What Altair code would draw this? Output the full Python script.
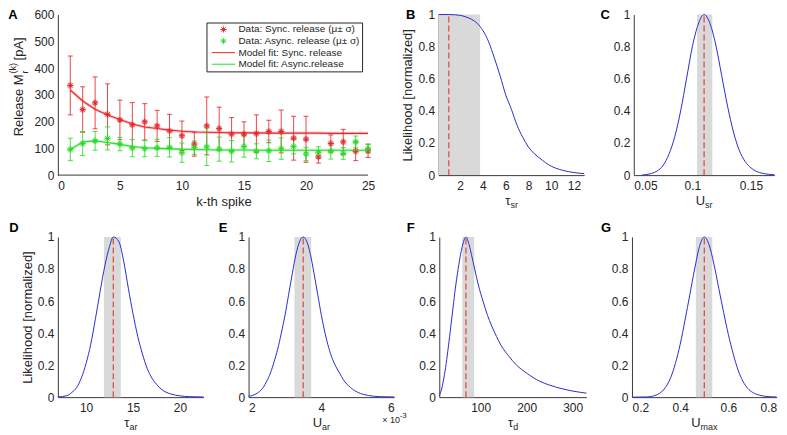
import altair as alt
import pandas as pd

FONT = "Liberation Sans"
INK = "#262626"
AXC = "#3a3a3a"
RED = "#e8262b"
GREEN = "#29dc29"
BLUE = "#2b2bd4"
BAND = "#d9d9d9"
DASH = "#e0443f"

AST = "M-1,0L1,0M0,-1L0,1M-0.7,-0.7L0.7,0.7M-0.7,0.7L0.7,-0.7"
SEG = "M-3.9,0L3.9,0"

SERIES = ["Data: Sync. release (μ± σ)", "Data: Async. release (μ± σ)",
          "Model fit: Sync. release", "Model fit: Async.release"]

# ---------------- Panel A data ----------------
spike = list(range(1, 26))
sync_mean = [335, 245, 270, 227, 206, 188, 199, 184, 165, 147, 116, 184, 174,
             153, 153, 155, 163, 163, 138, 134, 68, 118, 124, 89, 91]
sync_sd = [110, 85, 97, 114, 74, 83, 68, 58, 62, 55, 45, 108, 80,
           62, 46, 70, 42, 80, 82, 86, 23, 32, 47, 35, 25]
async_mean = [96, 118, 128, 137, 116, 101, 99, 102, 104, 84, 103, 106, 97,
              89, 107, 89, 91, 99, 107, 79, 84, 89, 81, 124, 99]
async_sd = [42, 45, 35, 43, 25, 32, 30, 32, 36, 36, 25, 70, 45,
            40, 40, 28, 40, 40, 28, 25, 22, 29, 22, 22, 16]
fit_sync = [318, 277, 246, 225, 208, 191, 180, 174, 168, 164, 161, 160, 159,
            158, 158, 158, 157, 157, 157, 157, 157, 156, 156, 156, 156]
fit_async = [96, 124, 128, 122, 115, 107, 102, 100, 98, 97, 96, 95, 94,
             94, 94, 93, 93, 93, 93, 93, 93, 93, 93, 93, 93]
A_xticks = [0, 5, 10, 15, 20, 25]
A_yticks = [0, 100, 200, 300, 400, 500, 600]

# ---------------- Likelihood curves ----------------
tau_sr_x = [0.1, 1, 2, 2.5, 3, 3.5, 4, 4.5, 5, 5.5, 6, 6.5, 7, 7.5, 8, 9, 10, 11, 12, 12.9]
tau_sr_y = [1.0, 1.0, 0.995, 0.985, 0.97, 0.945, 0.9, 0.83, 0.73, 0.62, 0.5, 0.41, 0.31,
            0.235, 0.175, 0.105, 0.056, 0.03, 0.016, 0.009]

u_sr_x = [0.057, 0.06, 0.065, 0.07, 0.075, 0.08, 0.085, 0.09, 0.095, 0.1, 0.105, 0.11, 0.115,
          0.12, 0.125, 0.13, 0.135, 0.14, 0.145, 0.15, 0.155, 0.16, 0.165, 0.17]
u_sr_y = [0.0, 0.003, 0.01, 0.026, 0.06, 0.13, 0.24, 0.40, 0.6, 0.80, 0.94, 1.0, 0.945,
          0.81, 0.62, 0.43, 0.27, 0.155, 0.085, 0.045, 0.022, 0.011, 0.005, 0.002]

tau_ar_x = [7, 8, 8.5, 9, 9.5, 10, 10.5, 11, 11.5, 12, 12.5, 12.9, 13.5, 14, 14.5, 15, 15.5,
            16, 16.5, 17, 17.5, 18, 19, 20, 21, 22.5]
tau_ar_y = [0.001, 0.01, 0.03, 0.06, 0.12, 0.21, 0.33, 0.49, 0.66, 0.82, 0.94, 1.0, 0.97, 0.85,
            0.68, 0.52, 0.38, 0.27, 0.18, 0.12, 0.08, 0.05, 0.02, 0.008, 0.003, 0.001]

u_ar_x = [0.0020, 0.0021, 0.0022, 0.0023, 0.0024, 0.0025, 0.0026, 0.0027, 0.0028, 0.0029,
          0.0030, 0.0031, 0.0032, 0.0033, 0.0034, 0.0035, 0.0036, 0.0037, 0.0038, 0.0039,
          0.0040, 0.0041, 0.0042, 0.0043, 0.0044, 0.0045, 0.0046, 0.0048, 0.0050, 0.0053,
          0.0056, 0.0060]
u_ar_y = [0.005, 0.01, 0.02, 0.035, 0.06, 0.1, 0.15, 0.22, 0.30, 0.40, 0.51, 0.64, 0.77, 0.89,
          0.97, 1.0, 0.97, 0.89, 0.77, 0.64, 0.51, 0.40, 0.31, 0.24, 0.19, 0.15, 0.11, 0.06,
          0.03, 0.01, 0.003, 0.001]

tau_d_x = [10, 15, 20, 25, 30, 35, 40, 45, 50, 55, 60, 68, 75, 80, 87, 95, 105, 115, 131,
           145, 160, 178, 200, 228, 250, 275, 300, 330]
tau_d_y = [0.01, 0.05, 0.12, 0.21, 0.32, 0.44, 0.56, 0.68, 0.78, 0.87, 0.94, 1.0, 0.95, 0.89,
           0.8, 0.7, 0.6, 0.51, 0.4, 0.32, 0.26, 0.2, 0.15, 0.1, 0.075, 0.054, 0.038, 0.025]

u_max_x = [0.2, 0.26, 0.3, 0.33, 0.36, 0.38, 0.4, 0.42, 0.44, 0.46, 0.48, 0.5, 0.52, 0.54,
           0.56, 0.58, 0.6, 0.62, 0.64, 0.66, 0.68, 0.7, 0.73, 0.76, 0.8]
u_max_y = [0.0, 0.001, 0.013, 0.044, 0.12, 0.21, 0.33, 0.48, 0.64, 0.8, 0.94, 1.0, 0.95, 0.83,
           0.68, 0.53, 0.39, 0.27, 0.17, 0.1, 0.055, 0.03, 0.012, 0.004, 0.001]

LIK_TICKS = [0, 0.2, 0.4, 0.6, 0.8, 1]

# ---------------- Layout ----------------
H_TOP = 161
H_BOT = 160.6
W_A_AXIS = 311
W_A = 332
A_XDOM = [0, 25 * W_A / W_A_AXIS]


def text_layer(t, x, y, size=13, angle=0, align="center", baseline="middle", bold=False):
    return alt.Chart(pd.DataFrame({"t": [t]})).mark_text(
        font=FONT, fontSize=size, angle=angle, align=align, baseline=baseline,
        fontWeight="bold" if bold else "normal", color=INK if not bold else "#000000"
    ).encode(x=alt.value(x), y=alt.value(y), text="t:N")


# ---------------- Panel A ----------------
axA_x = alt.Axis(values=A_xticks, domain=False, title="k-th spike", titleFontSize=13,
                 titlePadding=4, labelPadding=5)
axA_y = alt.Axis(values=A_yticks, title=None, labelPadding=4)


def XA(f):
    return alt.X(f, scale=alt.Scale(domain=A_XDOM, nice=False, zero=False), axis=axA_x)


def YA(f):
    return alt.Y(f, scale=alt.Scale(domain=[0, 600], nice=False), axis=axA_y)


def mk(mean, sd, name):
    return pd.DataFrame({"k": spike, "v": mean,
                         "lo": [m - s for m, s in zip(mean, sd)],
                         "hi": [m + s for m, s in zip(mean, sd)],
                         "series": name})


df_s = mk(sync_mean, sync_sd, SERIES[0])
df_a = mk(async_mean, async_sd, SERIES[1])
df_pts = pd.concat([df_s, df_a])
df_fit = pd.concat([
    pd.DataFrame({"k": spike, "v": fit_sync, "series": SERIES[2]}),
    pd.DataFrame({"k": spike, "v": fit_async, "series": SERIES[3]}),
])

leg = alt.Legend(orient="none", legendX=149, legendY=8, title=None, labelFont=FONT,
                 labelFontSize=10, labelColor=INK, symbolSize=36, symbolStrokeWidth=1,
                 strokeColor=INK, fillColor="white", padding=2, rowPadding=1.6,
                 symbolOffset=10, labelOffset=10)
color_enc = alt.Color("series:N", scale=alt.Scale(domain=SERIES, range=[RED, GREEN, RED, GREEN]),
                      legend=leg)
shape_enc = alt.Shape("series:N", scale=alt.Scale(domain=SERIES, range=[AST, AST, SEG, SEG]),
                      legend=leg)


def errbars(df, col):
    rule = alt.Chart(df).mark_rule(color=col, strokeWidth=1, opacity=0.85).encode(
        x=XA("k:Q"), y=YA("lo:Q"), y2="hi:Q")
    lo = alt.Chart(df).mark_tick(color=col, orient="horizontal", size=5, thickness=1,
                                 opacity=0.85).encode(x=XA("k:Q"), y=YA("lo:Q"))
    hi = alt.Chart(df).mark_tick(color=col, orient="horizontal", size=5, thickness=1,
                                 opacity=0.85).encode(x=XA("k:Q"), y=YA("hi:Q"))
    return [rule, lo, hi]


def halo_pts(df, col):
    return alt.Chart(df).mark_point(shape=AST, filled=False, size=36, strokeWidth=3.5,
                                    opacity=0.3, color=col).encode(x=XA("k:Q"), y=YA("v:Q"))


def halo_line(vals, col):
    return alt.Chart(pd.DataFrame({"k": spike, "v": vals})).mark_line(
        color=col, strokeWidth=3, opacity=0.25).encode(x=XA("k:Q"), y=YA("v:Q"))


baseA = alt.Chart(pd.DataFrame({"a": [0], "b": [25], "z": [0]})).mark_rule(
    color=AXC, strokeWidth=1).encode(x=XA("a:Q"), x2="b:Q", y=YA("z:Q"))

pointsA = alt.Chart(df_pts).mark_point(filled=False, size=36, strokeWidth=1, opacity=1).encode(
    x=XA("k:Q"), y=YA("v:Q"), color=color_enc, shape=shape_enc)
linesA = alt.Chart(df_fit).mark_line(strokeWidth=1.1).encode(
    x=XA("k:Q"), y=YA("v:Q"), color=color_enc)

layersA = [baseA, halo_line(fit_sync, RED), halo_line(fit_async, GREEN)]
layersA += errbars(df_s, RED) + errbars(df_a, GREEN)
layersA += [halo_pts(df_s, RED), halo_pts(df_a, GREEN), pointsA, linesA]
layersA += [
    text_layer("A", -49.7, -5.3, size=13, align="left", baseline="top", bold=True),
    text_layer("Release M", -39, 60, size=13, angle=270, align="right"),
    text_layer("(k)", -44.5, 59, size=9, angle=270, align="left"),
    text_layer("r", -33, 59, size=9, angle=270, align="left"),
    text_layer("[pA]", -39, 46, size=13, angle=270, align="left"),
]
chartA = alt.layer(*layersA).properties(width=W_A, height=H_TOP)


# ---------------- Likelihood panels ----------------
def lik_panel(xs, ys, dom, band, peak, width, height, xticks, letter, letter_dx, sym, sub,
              sub_dx, ytitle, label_expr=None, extras=()):
    xax = dict(values=xticks, title=None, labelPadding=5)
    if label_expr:
        xax["labelExpr"] = label_expr
    else:
        xax["format"] = "~r"

    def X(f):
        return alt.X(f, scale=alt.Scale(domain=dom, nice=False, zero=False), axis=alt.Axis(**xax))

    def Y(f):
        return alt.Y(f, scale=alt.Scale(domain=[0, 1], nice=False),
                     axis=alt.Axis(values=LIK_TICKS, format="~r",
                                   title="Likelihood [normalized]" if ytitle else None,
                                   titlePadding=3, labelPadding=4))

    band_l = alt.Chart(pd.DataFrame({"x": [band[0]], "x2": [band[1]], "y": [0.0], "y2": [1.0]})
                       ).mark_rect(color=BAND).encode(x=X("x:Q"), x2="x2:Q", y=Y("y:Q"), y2="y2:Q")
    dash = alt.Chart(pd.DataFrame({"x": [peak], "y": [0.0], "y2": [1.0]})).mark_rule(
        color=DASH, strokeDash=[6, 3], strokeWidth=1.2).encode(x=X("x:Q"), y=Y("y:Q"), y2="y2:Q")
    curve = alt.Chart(pd.DataFrame({"x": xs, "y": ys})).mark_line(
        color=BLUE, strokeWidth=1, interpolate="monotone").encode(x=X("x:Q"), y=Y("y:Q"))
    cx = width / 2
    ty = height + 26
    layers = [band_l, dash, curve,
              text_layer(letter, letter_dx, -5.3 if height == H_TOP else -14.5, size=13,
                         align="left", baseline="top", bold=True),
              text_layer(sym, cx + sub_dx, ty, size=13, align="right"),
              text_layer(sub, cx + sub_dx, ty + 4, size=9, align="left")]
    layers += list(extras)
    return alt.layer(*layers).properties(width=width, height=height)


chartB = lik_panel(tau_sr_x, tau_sr_y, [0.1, 12.9], [0.1, 3.75], 1.0, 146, H_TOP,
                   [2, 4, 6, 8, 10, 12], "B", -32.6, "τ", "sr", -0.9, True)
chartC = lik_panel(u_sr_x, u_sr_y, [0.05, 0.17], [0.104, 0.117], 0.11, 141, H_TOP,
                   [0.05, 0.1, 0.15], "C", -33.3, "U", "sr", 1.0, False)
chartD = lik_panel(tau_ar_x, tau_ar_y, [7, 22.5], [11.9, 13.7], 12.9, 146, H_BOT,
                   [10, 15, 20], "D", -48.7, "τ", "ar", -1.2, True)
chartE = lik_panel(u_ar_x, u_ar_y, [0.002, 0.006], [0.00326, 0.00372], 0.0035, 146, H_BOT,
                   [0.002, 0.004, 0.006], "E", -30, "U", "ar", 0.7, False,
                   label_expr="format(datum.value * 1000, '~r')",
                   extras=[text_layer("× 10", 134, 184, size=9, align="left"),
                           text_layer("-3", 151.5, 180, size=8, align="left")])
chartF = lik_panel(tau_d_x, tau_d_y, [10, 330], [60, 86], 68, 147.5, H_BOT,
                   [100, 200, 300], "F", -32.6, "τ", "d", 0.35, False)
chartG = lik_panel(u_max_x, u_max_y, [0.2, 0.8], [0.465, 0.533], 0.5, 145, H_BOT,
                   [0.2, 0.4, 0.6, 0.8], "G", -31, "U", "max", -3.8, False)

top = alt.hconcat(chartA, chartB, chartC, spacing=49.7, bounds="flush")
bottom = alt.hconcat(chartD, chartE, chartF, chartG, spacing=45.2, bounds="flush")

chart = alt.vconcat(top, bottom, spacing=12).properties(padding=0).configure_view(
    stroke=None
).configure_axis(
    labelFont=FONT, labelFontSize=12, labelColor=INK, titleFont=FONT, titleFontSize=13,
    titleColor=INK, titleFontWeight="normal", domainColor=AXC, domainWidth=1,
    ticks=False, tickSize=0, grid=False
)

chart.save("out.html", embed_options={"renderer": "svg", "actions": False})
